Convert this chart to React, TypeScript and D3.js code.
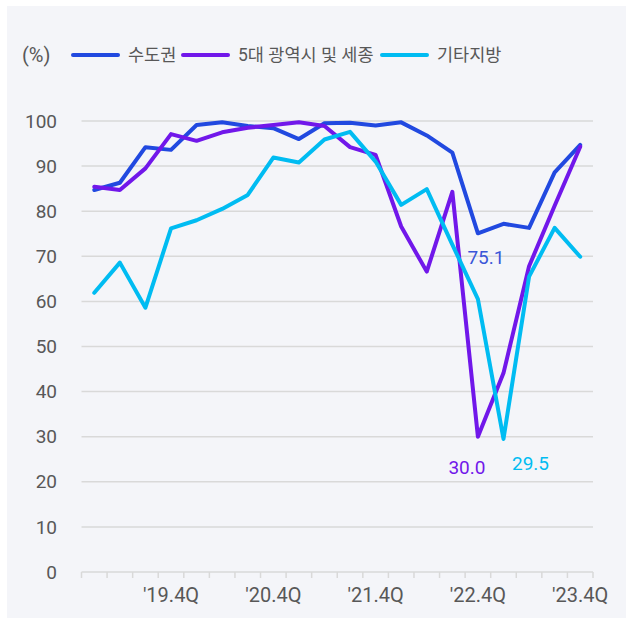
import React, { useEffect } from "react";
import * as d3 from "d3";

// quarters '19.1Q ~ '23.4Q
const quarters = [
  "19.1Q", "19.2Q", "19.3Q", "19.4Q",
  "20.1Q", "20.2Q", "20.3Q", "20.4Q",
  "21.1Q", "21.2Q", "21.3Q", "21.4Q",
  "22.1Q", "22.2Q", "22.3Q", "22.4Q",
  "23.1Q", "23.2Q", "23.3Q", "23.4Q",
];
const tickQuarters = ["19.4Q", "20.4Q", "21.4Q", "22.4Q", "23.4Q"];

const capital = [84.7, 86.3, 94.2, 93.6, 99.1, 99.7, 98.9, 98.4, 96.0, 99.5, 99.6, 99.0, 99.7, 96.8, 93.0, 75.1, 77.2, 76.3, 88.6, 94.7];
const metro = [85.4, 84.7, 89.5, 97.1, 95.6, 97.5, 98.5, 99.1, 99.7, 98.9, 94.2, 92.5, 76.6, 66.6, 84.3, 30.0, 44.1, 67.8, 81.2, 94.3];
const regional = [61.9, 68.6, 58.6, 76.2, 78.0, 80.5, 83.6, 91.9, 90.8, 95.9, 97.6, 91.0, 81.4, 84.9, 72.6, 60.5, 29.5, 65.5, 76.3, 69.9];

const yTicks = [0, 10, 20, 30, 40, 50, 60, 70, 80, 90, 100];

const series = [
  { name: "수도권", values: capital, color: "#2149e0" },
  { name: "5대 광역시 및 세종", values: metro, color: "#7117ea" },
  { name: "기타지방", values: regional, color: "#00bcf2" },
];

const FONT = "Roboto, 'Noto Sans CJK KR', sans-serif";

export default function App() {
  useEffect(() => {
    document.body.style.margin = "0";
  }, []);

  const width = 626;
  const height = 620;

  const x = d3.scaleBand().domain(quarters).range([81.5, 593]).paddingInner(0).paddingOuter(0);
  const y = d3.scaleLinear().domain([0, 100]).range([572, 121]);
  const cx = (q: string) => (x(q) || 0) + x.bandwidth() / 2;

  const line = d3
    .line<number>()
    .x((_, i) => cx(quarters[i]))
    .y((d) => y(d));

  const boundaries = quarters.map((q) => x(q) || 0).concat([x.range()[1]]);

  // legend layout
  const legendItems = [
    { lineX: 73, textX: 128 },
    { lineX: 183, textX: 238 },
    { lineX: 382, textX: 437 },
  ];

  const i15 = quarters.indexOf("22.4Q");
  const i16 = quarters.indexOf("23.1Q");

  return (
    <svg width={width} height={height} style={{ display: "block" }} fontFamily={FONT}>
      <rect x={7} y={6} width={width - 7} height={612} fill="#f4f5f9" />

      {/* gridlines */}
      {yTicks.map((t) => (
        <line key={t} x1={81.5} x2={593} y1={y(t)} y2={y(t)} stroke="#d9d9d9" strokeWidth={1.5} />
      ))}
      {/* y tick labels */}
      {yTicks.map((t) => (
        <text key={"l" + t} x={57} y={y(t)} dy="0.35em" textAnchor="end" fontSize={19} fill="#585858">
          {t}
        </text>
      ))}

      {/* x axis ticks */}
      {boundaries.map((b, i) => (
        <line key={"t" + i} x1={b} x2={b} y1={572} y2={578} stroke="#d9d9d9" strokeWidth={1.5} />
      ))}
      {tickQuarters.map((q) => (
        <text key={q} x={cx(q)} y={602} textAnchor="middle" fontSize={20} fill="#585858">
          {"'" + q}
        </text>
      ))}

      {/* lines */}
      {series.map((s) => (
        <path
          key={s.name}
          d={line(s.values) || ""}
          fill="none"
          stroke={s.color}
          strokeWidth={4}
          strokeLinejoin="round"
          strokeLinecap="round"
        />
      ))}

      {/* value labels */}
      <text x={cx(quarters[i15]) + 8} y={y(capital[i15]) + 31} textAnchor="middle" fontSize={19} fill="#3a56d8">
        {capital[i15].toFixed(1)}
      </text>
      <text x={cx(quarters[i15]) - 11} y={y(metro[i15]) + 37} textAnchor="middle" fontSize={19} fill="#7117ea">
        {metro[i15].toFixed(1)}
      </text>
      <text x={cx(quarters[i16]) + 27} y={y(regional[i16]) + 31} textAnchor="middle" fontSize={19} fill="#00bcf2">
        {regional[i16].toFixed(1)}
      </text>

      {/* legend */}
      <text x={22} y={55} dy="0.35em" fontSize={20} fill="#585858">
        (%)
      </text>
      {series.map((s, i) => (
        <g key={"lg" + i}>
          <line
            x1={legendItems[i].lineX}
            x2={legendItems[i].lineX + 45}
            y1={55}
            y2={55}
            stroke={s.color}
            strokeWidth={4}
            strokeLinecap="round"
          />
          <text x={legendItems[i].textX} y={55} dy="0.35em" fontSize={17.5} fill="#585858">
            {s.name}
          </text>
        </g>
      ))}
    </svg>
  );
}
